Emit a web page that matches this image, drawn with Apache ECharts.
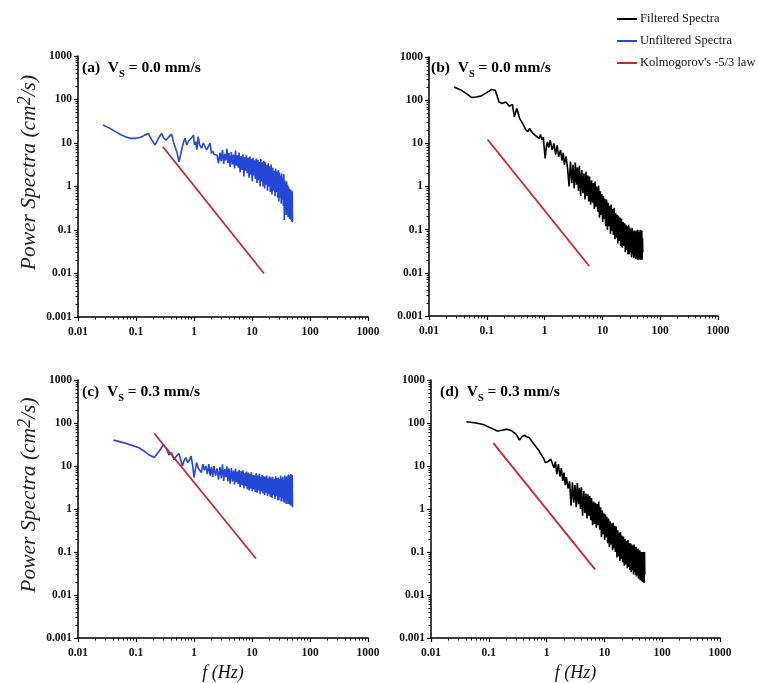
<!DOCTYPE html>
<html>
<head>
<meta charset="utf-8">
<script src="https://cdn.jsdelivr.net/npm/echarts@6/dist/echarts.min.js"></script>
<style>html,body{margin:0;padding:0;background:#fff}#c{width:758px;height:683px}</style>
</head>
<body>
<div id="c"></div>
<script>
// ---------- data ----------
const freqTopLow = [0.027,0.035,0.045,0.055,0.065,0.079,0.1,0.12,0.14,0.163,0.185,0.213,0.245,0.277,0.3,0.33,0.37,0.41,0.44,0.47,0.51,0.55,0.59,0.63,0.67,0.70,0.75,0.8,0.85,0.9,0.95,0.98,1.02,1.07,1.12,1.18,1.25,1.35,1.45,1.55,1.65,1.75,1.89,2.0,2.1,2.2,2.35,2.5];
const freqBotLow = [0.041,0.06,0.08,0.11,0.14,0.17,0.207,0.25,0.296,0.34,0.37,0.41,0.45,0.5,0.55,0.59,0.63,0.67,0.72,0.78,0.84,0.89,0.95,1.0,1.05,1.11,1.18,1.26,1.34,1.42,1.5,1.6,1.7,1.8,1.9,2.0,2.1,2.2,2.35,2.5];
const freqHigh = [2.65,2.8,2.95,3.1,3.25,3.4,3.55,3.7,3.85,4.0,4.2,4.4,4.6,4.8,5.0,5.2,5.4,5.6,5.8,6.0,6.25,6.5,6.75,7.0,7.25,7.5,7.75,8.0,8.3,8.6,8.9,9.2,9.5,9.8,10.1,10.4,10.7,11.0,11.4,11.8,12.2,12.6,13.0,13.4,13.8,14.2,14.6,15.0,15.5,16.0,16.5,17.0,17.5,18.0,18.5,19.0,19.5,20.0,20.7,21.4,22.1,22.8,23.5,24.2,24.9,25.6,26.3,27.0,27.7,28.4,29.1,29.8,30.5,31.2,31.9,32.6,33.3,34.0,34.7,35.4,36.1,36.8,37.5,38.2,38.9,39.6,40.3,41.0,41.7,42.4,43.1,43.8,44.5,45.2,45.9,46.6,47.3,48.0,48.7,49.4,50.0];

// (a) Unfiltered, Vs = 0.0
const specA_low = [26,22,18,15.5,14,12.8,12.8,13.5,15,16.6,12,9,13,16.6,13,11.7,14,16,11,8.2,6,3.7,5.5,8.2,11,12.8,9,11,10,13,14,15,9,10.7,7,14,9,7.6,10,9,7,8,10,5.8,6.5,5.5,6,5.2];
const specA_high = [3.4,6.0,3.8,7.0,3.3,5.6,4.0,7.4,3.5,5.9, 2.8,6.2,3.2,5.4,2.6,6.8,3.0,5.2,2.7,6.0, 2.1,5.0,2.4,5.5,1.7,4.7,2.3,5.2,2.0,4.6, 1.6,4.9,1.9,4.3,1.3,4.6,1.8,4.0,1.5,4.4, 1.2,4.1,1.4,3.7,1.0,4.3,1.3,3.6,1.0,3.9, 0.9,3.6,1.1,3.1,0.8,3.4,1.0,2.9,0.75,3.2, 0.65,2.7,0.8,2.3,0.6,2.6,0.75,2.2,0.55,2.4, 0.45,2.1,0.55,1.8,0.4,2.0,0.5,1.6,0.35,1.9, 0.17,1.4,0.3,1.2,0.22,1.3,0.28,1.1,0.2,1.0, 0.22,0.9,0.18,0.8,0.25,0.85,0.17,0.7,0.16,0.78,0.15];
// (b) Filtered, Vs = 0.0
const specB_low = [203,175,140,115,118,124,150,177,170,91,84,91,72,80,41,64,38,30,27,21,18.5,22,19,17,16,15,14,13,16,12,14,13,4.5,8,10.8,8,11.8,7,10,5.5,9,4.9,7,4,6,3.2,5,2.6];
const specB_high = [1.0,3.8,1.2,3.2,0.9,3.6,1.1,2.8,0.8,3.0, 0.6,2.4,0.7,2.0,0.5,2.2,0.6,1.8,0.45,1.7, 0.38,1.4,0.42,1.2,0.3,1.3,0.34,1.0,0.26,1.05, 0.19,0.78,0.22,0.66,0.15,0.6,0.18,0.52,0.12,0.5, 0.1,0.42,0.12,0.36,0.08,0.38,0.095,0.3,0.075,0.32, 0.06,0.24,0.065,0.22,0.048,0.21,0.055,0.19,0.042,0.18, 0.038,0.15,0.042,0.14,0.03,0.13,0.034,0.12,0.027,0.13, 0.027,0.11,0.03,0.1,0.023,0.11,0.027,0.09,0.022,0.095, 0.024,0.09,0.021,0.095,0.025,0.085,0.02,0.1,0.022,0.085, 0.02,0.09,0.024,0.1,0.02,0.075,0.022,0.095,0.02,0.065,0.03];
// (c) Unfiltered, Vs = 0.3
const specC_low = [40,35,31,27,22,18,15.7,22,31,24.5,18,20.5,14,17,19.5,14,10,13,15.7,12,14,17,10,5.4,8,12,9,10,7,11,8,10,6.5,11,6,9.5,5.5,10,6,8.8];
const specC_high = [4.8,9.5,5.2,11.0,4.5,8.5,5.5,9.8,4.4,8.8, 3.9,9.0,4.4,7.8,3.7,8.6,4.2,7.4,3.8,8.2, 3.2,7.6,3.6,8.0,3.0,6.8,3.4,7.4,2.9,7.0, 2.7,6.6,3.0,7.2,2.6,6.2,2.9,6.0,2.5,6.8, 2.4,6.0,2.7,6.6,2.2,5.6,2.6,6.2,2.3,5.8, 2.1,5.6,2.4,6.0,2.0,5.2,2.2,5.8,1.9,5.4, 1.8,5.6,2.1,5.0,1.7,5.8,2.0,5.2,1.6,5.4, 1.6,5.0,1.9,6.0,1.5,5.2,1.8,5.6,1.5,4.8, 1.4,6.0,1.7,5.2,1.3,5.8,1.6,5.0,1.3,6.3, 1.3,5.2,1.5,6.0,1.2,6.5,1.4,5.0,1.2,6.2,1.1];
// (d) Filtered, Vs = 0.3
const specD_low = [107,100,92,76,65,68,72,66,55,40,47,52,48,46,38,35,30,31,24,20,17,15,12,11,12.5,13.8,14.5,15.7,9,12.6,6.5,11,5.7,9,4.5,7,3.6,5.5,3,4.4];
const specD_high = [1.2,4.2,1.4,3.6,1.1,4.0,1.3,3.1,1.0,3.2, 0.7,2.6,0.8,2.3,0.6,2.2,0.7,2.0,0.55,1.8, 0.42,1.5,0.45,1.4,0.36,1.3,0.42,1.5,0.33,1.1, 0.22,0.92,0.26,0.8,0.19,0.75,0.22,0.66,0.16,0.6, 0.13,0.52,0.15,0.46,0.11,0.48,0.12,0.41,0.1,0.39, 0.075,0.32,0.08,0.28,0.062,0.29,0.07,0.24,0.058,0.23, 0.048,0.2,0.052,0.18,0.042,0.19,0.045,0.16,0.038,0.16, 0.034,0.15,0.038,0.14,0.03,0.15,0.034,0.13,0.029,0.13, 0.027,0.11,0.03,0.12,0.024,0.1,0.028,0.11,0.022,0.095, 0.024,0.1,0.021,0.09,0.02,0.1,0.023,0.085,0.019,0.1,0.03];

// Kolmogorov -5/3 reference lines (end points)
const kolFreqA = [0.29, 16.1],  kolPowA = [8.2, 0.01];
const kolFreqB = [0.103, 5.9],  kolPowB = [12.3, 0.0144];
const kolFreqC = [0.207, 11.7], kolPowC = [57, 0.0705];
const kolFreqD = [0.12, 6.88],  kolPowD = [34, 0.0395];

const xTickLabels = ['0.01','0.1','1','10','100','1000'];
const yTickLabels = ['0.001','0.01','0.1','1','10','100','1000'];
const panelLabels = ['(a)','(b)','(c)','(d)'];
const panelSpeeds = ['0.0','0.0','0.3','0.3'];
const seriesNames = ['Filtered Spectra','Unfiltered Spectra',"Kolmogorov's -5/3 law"];

// ---------- build ----------
const zip = (xs, ys) => xs.map((x, i) => [x, ys[i]]);
const BLUE = '#2447d6', RED = '#c8282c', BLACK = '#000';
const SERIF = '"Liberation Serif","Times New Roman",serif';

const grids = [
  {left: 78,  top: 56,  width: 290, height: 261},
  {left: 429, top: 57,  width: 289, height: 259},
  {left: 78,  top: 380, width: 290, height: 260},
  {left: 431, top: 380, width: 289, height: 259}
];
const titlePos = [[82, 60], [431, 60], [82, 384], [440, 384]];

function xAxisFor(i) {
  return {
    type: 'log', logBase: 10, gridIndex: i, min: 0.01, max: 1000, splitNumber: 5,
    name: i >= 2 ? 'f (Hz)' : '', nameLocation: 'middle', nameGap: 26,
    nameTextStyle: {fontFamily: SERIF, fontStyle: 'italic', fontSize: 18, color: '#111'},
    axisLine: {show: true, lineStyle: {color: '#000', width: 1.5}},
    axisTick: {show: true, length: 4, lineStyle: {color: '#000', width: 1.2}},
    minorTick: {show: true, splitNumber: 9, length: 2.5, lineStyle: {color: '#000', width: 1}},
    splitLine: {show: false},
    axisLabel: {fontFamily: SERIF, fontWeight: 'bold', fontSize: 11.5, color: '#111', margin: 9,
      formatter: v => xTickLabels[Math.round(Math.log10(v)) + 2]}
  };
}
function yAxisFor(i) {
  return {
    type: 'log', logBase: 10, gridIndex: i, min: 0.001, max: 1000, splitNumber: 6,
    name: (i % 2 === 0) ? 'Power Spectra (cm{sup|2}/s)' : '', nameLocation: 'middle', nameGap: 36, nameRotate: 90,
    nameTextStyle: {fontFamily: SERIF, fontStyle: 'italic', fontSize: 21.5, color: '#222', lineHeight: 26,
      padding: [0, 0, 0, 28],
      rich: {sup: {fontFamily: SERIF, fontStyle: 'italic', fontSize: 18, color: '#222', verticalAlign: 'top', lineHeight: 26, padding: [0,0,6,0]}}},
    axisLine: {show: true, lineStyle: {color: '#000', width: 1.5}},
    axisTick: {show: true, length: 4, lineStyle: {color: '#000', width: 1.2}},
    minorTick: {show: true, splitNumber: 9, length: 2.5, lineStyle: {color: '#000', width: 1}},
    splitLine: {show: false},
    axisLabel: {fontFamily: SERIF, fontWeight: 'bold', fontSize: 11.5, color: '#111', margin: 6,
      formatter: v => yTickLabels[Math.round(Math.log10(v)) + 3]}
  };
}

function spectrum(name, color, i, xs, ys) {
  return {name, type: 'line', xAxisIndex: i, yAxisIndex: i, data: zip(xs, ys),
    showSymbol: false, symbol: 'none', lineStyle: {color, width: 1.6}, itemStyle: {color}, animation: false, z: 2};
}
function kol(i, xs, ys) {
  return {name: seriesNames[2], type: 'line', xAxisIndex: i, yAxisIndex: i, data: zip(xs, ys),
    showSymbol: false, symbol: 'none', lineStyle: {color: RED, width: 1.8}, itemStyle: {color: RED}, animation: false, z: 3};
}

const series = [
  spectrum(seriesNames[0], BLACK, 1, freqTopLow.concat(freqHigh), specB_low.concat(specB_high)),
  spectrum(seriesNames[1], BLUE, 0, freqTopLow.concat(freqHigh), specA_low.concat(specA_high)),
  kol(0, kolFreqA, kolPowA),
  kol(1, kolFreqB, kolPowB),
  spectrum(seriesNames[1], BLUE, 2, freqBotLow.concat(freqHigh), specC_low.concat(specC_high)),
  kol(2, kolFreqC, kolPowC),
  spectrum(seriesNames[0], BLACK, 3, freqBotLow.concat(freqHigh), specD_low.concat(specD_high)),
  kol(3, kolFreqD, kolPowD)
];

const titles = grids.map((g, i) => ({
  text: '{b|' + panelLabels[i] + '  V}{s|S}{b| = ' + panelSpeeds[i] + ' mm/s}',
  left: titlePos[i][0], top: titlePos[i][1], padding: 0,
  textStyle: {rich: {
    b: {fontFamily: SERIF, fontWeight: 'bold', fontSize: 15.5, color: '#000', lineHeight: 20, verticalAlign: 'top'},
    s: {fontFamily: SERIF, fontWeight: 'bold', fontSize: 10.5, color: '#000', lineHeight: 20, verticalAlign: 'bottom'}
  }}
}));

const chart = echarts.init(document.getElementById('c'), null, {renderer: 'canvas'});
chart.setOption({
  backgroundColor: '#fff',
  animation: false,
  title: titles,
  legend: {
    orient: 'vertical', left: 612, top: 7, padding: 5, itemWidth: 20, itemHeight: 2, itemGap: 8, icon: 'rect',
    data: seriesNames,
    textStyle: {fontFamily: SERIF, fontSize: 12.5, color: '#111', lineHeight: 14, padding: [0, 0, 0, -2]}
  },
  grid: grids,
  xAxis: grids.map((g, i) => xAxisFor(i)),
  yAxis: grids.map((g, i) => yAxisFor(i)),
  series
});
</script>
</body>
</html>
